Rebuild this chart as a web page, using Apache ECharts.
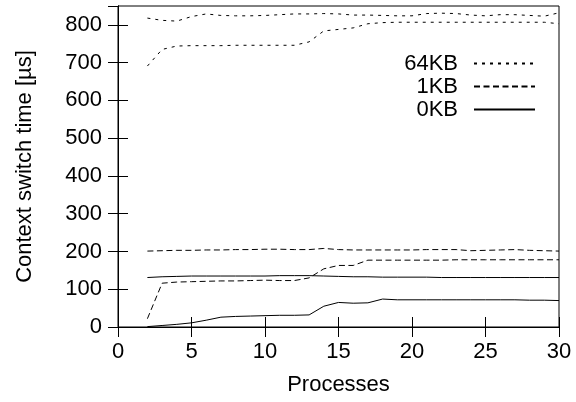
<!DOCTYPE html>
<html>
<head>
<meta charset="utf-8">
<script src="https://cdn.jsdelivr.net/npm/echarts@6/dist/echarts.min.js"></script>
<style>html,body{margin:0;padding:0;background:#fff}#c{width:576px;height:402px}</style>
</head>
<body>
<div id="c"></div>
<script>
const processes = [2,3,4,5,6,7,8,9,10,11,12,13,14,15,16,17,18,19,20,21,22,23,24,25,26,27,28,29,30];
const kb64Upper = [818,812,810,822,829,825,824,824,825,827,829,829,830,829,826,826,825,824,824,830,831,830,826,824,827,827,825,823,832];
const kb64Lower = [691,735,744,745,745,745,746,746,746,746,746,755,784,788,792,803,806,807,807,807,807,807,807,807,807,807,807,807,803];
const kb1Upper  = [201,202,203,203,204,204,205,205,206,206,205,205,208,205,204,204,204,204,204,205,205,205,202,203,204,205,203,202,201];
const kb1Lower  = [22,116,119,120,121,122,122,123,124,123,123,130,154,163,163,177,177,177,177,177,177,178,178,178,178,178,178,178,178];
const kb0Upper  = [131,133,134,135,135,135,135,135,135,136,136,136,135,134,133,133,132,132,132,132,131,131,131,131,131,131,131,131,131];
const kb0Lower  = [1,4,7,11,18,26,28,29,30,31,31,32,55,65,63,64,74,72,72,72,72,72,72,72,72,72,71,71,70];
const xTicks = {min:0, max:30, interval:5};
const yTicks = {min:0, max:850, interval:100};
const seriesNames = ['64KB','1KB','0KB'];

const FONT = 'Liberation Sans';
const pts = arr => processes.map((p,i)=>[p,arr[i]]);
const dashes = {'64KB':[3,5],'1KB':[6,3.5],'0KB':'solid'};
function mk(name, arr){
  return {name, type:'line', data:pts(arr), showSymbol:false, symbol:'none', animation:false,
    lineStyle:{color:'#000', width:1, type:dashes[name]}, itemStyle:{color:'#000'}};
}
const axisCommon = {axisLine:{show:true,lineStyle:{color:'#000',width:1}}, axisTick:{show:true,inside:true,length:10,lineStyle:{color:'#000'}}, splitLine:{show:false}};
const chart = echarts.init(document.getElementById('c'), null, {renderer:'canvas'});
chart.setOption({
  animation:false,
  textStyle:{fontFamily:FONT},
  grid:{left:118,right:17,top:6,bottom:75,show:true,borderColor:'#000',borderWidth:1},
  legend:{data:seriesNames, orient:'vertical', align:'right', right:35, top:47, itemWidth:61, itemHeight:14, itemGap:0,
    itemStyle:{color:'transparent',borderColor:'transparent',borderWidth:0,opacity:0},
    textStyle:{fontFamily:FONT,fontSize:22,color:'#000',lineHeight:23,padding:[0,11,0,0]}, selectedMode:false},
  xAxis:[
    Object.assign({type:'value', min:xTicks.min, max:xTicks.max, interval:xTicks.interval, position:'bottom',
      name:'Processes', nameLocation:'middle', nameGap:47, nameTextStyle:{fontFamily:FONT,fontSize:22,color:'#000'},
      axisLabel:{fontFamily:FONT,fontSize:22,color:'#000',margin:14}}, axisCommon),
    Object.assign({type:'value', min:xTicks.min, max:xTicks.max, interval:xTicks.interval, position:'top', axisLabel:{show:false}}, axisCommon)
  ],
  yAxis:[
    Object.assign({type:'value', min:yTicks.min, max:yTicks.max, interval:yTicks.interval, position:'left',
      name:'Context switch time [µs]', nameLocation:'middle', nameGap:82, nameTextStyle:{fontFamily:FONT,fontSize:22,color:'#000'},
      axisLabel:{fontFamily:FONT,fontSize:22,color:'#000',margin:16,showMaxLabel:false}}, axisCommon),
    Object.assign({type:'value', min:yTicks.min, max:yTicks.max, interval:yTicks.interval, position:'right', axisLabel:{show:false}}, axisCommon)
  ],
  series:[mk('64KB',kb64Upper), mk('64KB',kb64Lower), mk('1KB',kb1Upper), mk('1KB',kb1Lower), mk('0KB',kb0Upper), mk('0KB',kb0Lower)]
});
</script>
</body>
</html>
